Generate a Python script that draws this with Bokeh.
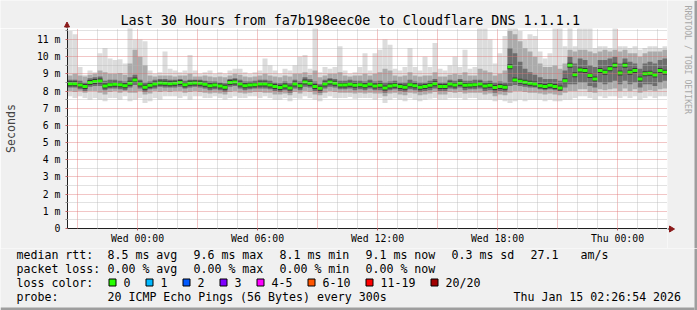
from bokeh.plotting import figure
from bokeh.models import Range1d, FixedTicker
from bokeh.layouts import column, row
from bokeh.embed import file_html
from bokeh.resources import INLINE
from bokeh.core.properties import value
import math

# ---------------- data ----------------
TITLE = "Last 30 Hours from fa7b198eec0e to Cloudflare DNS 1.1.1.1"
X_TICK_HOURS = [0, 6, 12, 18, 24]
X_TICK_LABELS = ["Wed 00:00", "Wed 06:00", "Wed 12:00", "Wed 18:00", "Thu 00:00"]
Y_TICKS = [0, 1, 2, 3, 4, 5, 6, 7, 8, 9, 10, 11]
Y_TICK_LABELS = ["0", "1 m", "2 m", "3 m", "4 m", "5 m", "6 m", "7 m", "8 m", "9 m", "10 m", "11 m"]

START_HOUR = -3.5   # Tue 20:30, hours relative to Wed 00:00
STEP_HOUR = 0.25    # one column = 15 minutes

median_ms = [
    8.43, 8.43, 8.35, 8.27, 8.49, 8.55, 8.58, 8.30, 8.37, 8.39, 8.37, 8.31, 8.45, 8.64, 8.41, 8.22, 8.33, 8.41, 8.47, 8.45,
    8.43, 8.45, 8.49, 8.37, 8.45, 8.47, 8.45, 8.39, 8.31, 8.35, 8.29, 8.22, 8.49, 8.53, 8.41, 8.31, 8.35, 8.37, 8.41, 8.41,
    8.35, 8.26, 8.20, 8.29, 8.18, 8.41, 8.31, 8.53, 8.45, 8.27, 8.16, 8.41, 8.53, 8.45, 8.35, 8.35, 8.39, 8.33, 8.37, 8.31,
    8.39, 8.29, 8.33, 8.18, 8.29, 8.33, 8.26, 8.22, 8.37, 8.31, 8.22, 8.26, 8.33, 8.43, 8.26, 8.26, 8.41, 8.35, 8.45, 8.33,
    8.35, 8.37, 8.41, 8.29, 8.33, 8.20, 8.26, 8.22, 9.42, 8.64, 8.57, 8.51, 8.45, 8.41, 8.31, 8.26, 8.33, 8.26, 8.18, 8.60,
    9.50, 8.95, 9.22, 9.20, 8.90, 8.70, 9.20, 9.10, 9.30, 9.50, 9.05, 9.50, 9.10, 9.20, 8.70, 9.00, 9.03, 8.93, 9.20, 9.10,
]
smoke_max = [
    11.5, 11.3, 9.4, 8.95, 9.2, 9.1, 10.2, 10.5, 9.9, 9.8, 9.85, 9.6, 11.7, 11.0, 11.0, 10.9, 9.2, 9.0, 9.1, 10.3,
    9.3, 9.2, 9.1, 9.2, 10.1, 9.2, 9.0, 9.1, 9.2, 9.0, 9.1, 9.0, 9.2, 9.3, 9.3, 9.1, 9.0, 9.1, 9.2, 9.9,
    9.5, 9.2, 9.0, 9.3, 9.2, 9.5, 10.0, 10.1, 9.3, 11.7, 9.1, 9.4, 9.3, 9.4, 10.6, 9.2, 9.0, 9.1, 9.4, 10.2,
    9.2, 10.2, 10.4, 11.0, 10.7, 9.3, 9.2, 9.4, 10.5, 9.4, 9.2, 10.0, 9.4, 10.8, 9.3, 9.2, 9.5, 10.0, 9.4, 10.4,
    9.3, 9.4, 11.7, 11.7, 11.0, 9.6, 10.2, 11.2, 11.7, 11.7, 11.5, 11.0, 11.3, 11.2, 10.3, 9.9, 10.2, 11.7, 11.7, 10.6,
    11.7, 10.6, 11.7, 11.7, 11.7, 10.5, 10.6, 10.6, 10.5, 11.7, 10.6, 10.6, 10.5, 10.6, 10.4, 10.5, 10.6, 10.6, 10.5, 10.6,
]
smoke_hi = [
    8.9, 9.0, 8.9, 8.85, 8.95, 9.0, 9.2, 9.1, 9.0, 9.0, 9.05, 8.95, 9.6, 10.4, 10.0, 9.5, 8.9, 8.85, 8.9, 8.9,
    8.9, 8.85, 8.9, 8.9, 9.0, 8.85, 8.85, 8.9, 8.85, 8.8, 8.85, 8.8, 8.9, 9.0, 8.95, 8.85, 8.8, 8.85, 8.9, 9.0,
    8.9, 8.85, 8.8, 8.9, 8.85, 9.0, 9.0, 9.1, 8.95, 9.2, 8.8, 8.9, 9.0, 9.0, 9.1, 8.9, 8.85, 8.9, 8.9, 9.0,
    8.9, 9.0, 9.1, 9.3, 9.2, 8.9, 8.85, 8.9, 9.1, 8.9, 8.85, 8.9, 8.9, 9.1, 8.85, 8.85, 8.95, 9.0, 8.95, 9.1,
    8.9, 8.9, 9.3, 9.2, 9.1, 8.9, 9.0, 9.2, 11.5, 11.3, 10.9, 10.5, 10.3, 10.0, 9.6, 9.4, 9.4, 9.5, 9.3, 9.6,
    10.4, 10.3, 10.4, 10.4, 10.3, 10.2, 10.3, 10.4, 10.3, 10.4, 10.3, 10.4, 10.2, 10.2, 10.0, 10.2, 10.3, 10.3, 10.3, 10.4,
]
core_hi = [
    8.65, 8.65, 8.6, 8.5, 8.75, 8.8, 8.85, 8.6, 8.65, 8.65, 8.6, 8.55, 8.8, 8.95, 8.65, 8.5, 8.55, 8.65, 8.7, 8.7,
    8.65, 8.65, 8.7, 8.6, 8.65, 8.65, 8.65, 8.6, 8.55, 8.55, 8.5, 8.45, 8.7, 8.75, 8.65, 8.55, 8.55, 8.6, 8.65, 8.65,
    8.6, 8.5, 8.45, 8.55, 8.45, 8.65, 8.55, 8.8, 8.7, 8.55, 8.4, 8.65, 8.75, 8.7, 8.6, 8.6, 8.65, 8.6, 8.6, 8.55,
    8.65, 8.55, 8.6, 8.5, 8.55, 8.6, 8.5, 8.5, 8.65, 8.55, 8.5, 8.5, 8.6, 8.7, 8.5, 8.5, 8.65, 8.6, 8.7, 8.6,
    8.6, 8.65, 8.65, 8.55, 8.6, 8.5, 8.55, 8.5, 10.5, 10.2, 9.7, 9.3, 9.1, 8.95, 8.8, 8.7, 8.7, 8.7, 8.6, 9.2,
    10.0, 9.6, 9.9, 9.8, 9.5, 9.4, 9.8, 9.8, 9.9, 10.0, 9.6, 9.9, 9.7, 9.6, 9.3, 9.6, 9.7, 9.6, 9.8, 9.9,
]
core_lo = [
    8.2, 8.2, 8.1, 8.0, 8.25, 8.3, 8.3, 8.05, 8.15, 8.15, 8.1, 8.05, 8.2, 8.35, 8.15, 7.95, 8.1, 8.15, 8.25, 8.2,
    8.2, 8.2, 8.25, 8.15, 8.2, 8.25, 8.2, 8.15, 8.05, 8.1, 8.05, 7.95, 8.25, 8.3, 8.15, 8.05, 8.1, 8.15, 8.15, 8.15,
    8.1, 8.0, 7.95, 8.05, 7.9, 8.15, 8.05, 8.25, 8.2, 8.0, 7.9, 8.15, 8.25, 8.2, 8.1, 8.1, 8.15, 8.05, 8.1, 8.05,
    8.15, 8.05, 8.05, 7.9, 8.05, 8.1, 8.0, 7.95, 8.1, 8.05, 7.95, 8.0, 8.05, 8.15, 8.0, 8.0, 8.15, 8.1, 8.2, 8.05,
    8.1, 8.1, 8.15, 8.0, 8.05, 7.9, 8.0, 7.95, 8.3, 8.35, 8.3, 8.25, 8.2, 8.2, 8.1, 8.05, 8.1, 8.05, 8.0, 8.2,
    8.4, 8.4, 8.5, 8.5, 8.3, 8.2, 8.5, 8.4, 8.5, 8.6, 8.4, 8.6, 8.4, 8.5, 8.2, 8.4, 8.4, 8.3, 8.5, 8.6,
]
smoke_lo = [
    8.0, 7.95, 8.0, 7.9, 8.0, 8.0, 7.9, 7.8, 7.95, 8.0, 7.9, 8.0, 7.9, 7.9, 8.0, 7.8, 7.85, 8.0, 7.95, 8.0,
    7.95, 8.0, 8.0, 7.9, 7.95, 8.0, 7.95, 7.9, 7.85, 7.9, 7.85, 7.8, 7.95, 8.0, 7.9, 7.85, 7.9, 7.95, 7.95, 7.9,
    7.9, 7.8, 7.8, 7.85, 7.75, 7.95, 7.85, 8.0, 7.95, 7.8, 7.75, 7.9, 8.0, 7.95, 7.9, 7.9, 7.9, 7.85, 7.9, 7.85,
    7.9, 7.85, 7.85, 7.7, 7.85, 7.9, 7.8, 7.75, 7.9, 7.85, 7.75, 7.8, 7.85, 7.95, 7.8, 7.8, 7.95, 7.9, 7.95, 7.85,
    7.9, 7.9, 7.9, 7.8, 7.85, 7.7, 7.8, 7.75, 7.9, 8.0, 8.0, 7.95, 7.9, 7.9, 7.85, 7.8, 7.85, 7.8, 7.75, 7.9,
    8.0, 8.0, 8.1, 8.1, 7.95, 7.9, 8.1, 8.05, 8.1, 8.15, 8.0, 8.15, 8.0, 8.1, 7.9, 8.0, 8.05, 8.0, 8.1, 8.15,
]
smoke_min = [
    7.7, 7.6, 7.7, 7.6, 7.5, 7.6, 7.5, 7.4, 7.6, 7.6, 7.5, 7.7, 7.4, 7.5, 7.6, 7.3, 7.4, 7.6, 7.5, 7.7,
    7.7, 7.7, 7.6, 7.7, 7.5, 7.7, 7.7, 7.6, 7.6, 7.7, 7.6, 7.5, 7.6, 7.7, 7.6, 7.6, 7.7, 7.7, 7.6, 7.7,
    7.6, 7.5, 7.5, 7.6, 7.4, 7.6, 7.55, 7.7, 7.6, 7.5, 7.4, 7.6, 7.7, 7.6, 7.6, 7.6, 7.65, 7.55, 7.6, 7.6,
    7.6, 7.5, 7.6, 7.3, 7.5, 7.6, 7.5, 7.4, 7.6, 7.5, 7.4, 7.5, 7.55, 7.6, 7.5, 7.5, 7.6, 7.6, 7.6, 7.5,
    7.6, 7.6, 7.5, 7.5, 7.5, 7.4, 7.5, 7.4, 7.3, 7.4, 7.5, 7.4, 7.5, 7.5, 7.5, 7.4, 7.5, 7.4, 7.4, 7.5,
    7.5, 7.6, 7.7, 7.7, 7.6, 7.5, 7.7, 7.6, 7.7, 7.7, 7.6, 7.7, 7.6, 7.7, 7.5, 7.6, 7.7, 7.6, 7.7, 7.7,
]

STAT_ROW_RTT = ["median rtt:", "8.5 ms avg", "9.6 ms max", "8.1 ms min", "9.1 ms now", "0.3 ms sd", "27.1", "am/s"]
STAT_ROW_LOSS = ["packet loss:", "0.00 % avg", "0.00 % max", "0.00 % min", "0.00 % now"]
LOSS_LABELS = ["0", "1", "2", "3", "4-5", "6-10", "11-19", "20/20"]
LOSS_COLORS = ["#26ff00", "#00b8ff", "#0059ff", "#7e00ff", "#ff00ff", "#ff5500", "#ff0000", "#a10000"]
PROBE_ROW = ["probe:", "20 ICMP Echo Pings (56 Bytes) every 300s", "Thu Jan 15 02:26:54 2026"]
WATERMARK = "RRDTOOL / TOBI OETIKER"

# ---------------- layout / style ----------------
MONO = "DejaVu Sans Mono"
W = 697
H_TOP, H_MAIN, H_LEG = 28, 220, 62      # title strip, chart, legend
Y_MAIN_END = H_TOP + H_MAIN              # 248
FRAME_L, FRAME_R = 67, 667
EDGE = 3
BG = "#f0f0f0"
SHADE = "#9e9e9e"
ARROW = "#8b1a1a"
AXIS = "#202020"


def pixel_panel(width, height, x0, y0):
    f = figure(width=width, height=height, x_range=Range1d(x0, x0 + width),
               y_range=Range1d(y0 + height, y0), output_backend="svg", toolbar_location=None,
               min_border=0, x_axis_type=None, y_axis_type=None)
    f.frame_align = False
    f.background_fill_color = BG
    f.border_fill_color = BG
    f.outline_line_color = None
    f.xgrid.visible = False
    f.ygrid.visible = False
    return f


n = len(median_ms)
left = [START_HOUR + STEP_HOUR * i for i in range(n)]
right = [l + STEP_HOUR for l in left]
center = [l + STEP_HOUR / 2 for l in left]

# ---------------- title strip (above the chart) ----------------
top = pixel_panel(FRAME_R, H_TOP, 0, 0)
top.text(x=[120], y=[19.5], text=[TITLE], text_font=value(MONO), text_font_size="13.4px",
         text_baseline="middle", text_align="left", text_color="black")
top.segment(x0=[FRAME_L - 0.5], y0=[26], x1=[FRAME_L - 0.5], y1=[H_TOP], line_color=AXIS, line_width=1)
top.patch(x=[FRAME_L - 3, FRAME_L + 2, FRAME_L - 0.5], y=[26.5, 26.5, 21.5], fill_color=ARROW, line_color=ARROW)

# ---------------- main chart ----------------
p = figure(width=FRAME_R, height=H_MAIN, x_range=Range1d(-3.5, 26.5), y_range=Range1d(0, 11.64),
           output_backend="svg", toolbar_location=None,
           min_border_left=FRAME_L, min_border_right=0, min_border_top=0, min_border_bottom=20)
p.frame_align = False
p.background_fill_color = "white"
p.border_fill_color = BG
p.outline_line_color = None

# smoke
p.quad(left=left, right=right, bottom=smoke_min, top=smoke_max, fill_color="#dcdcdc", line_color=None)
p.quad(left=left, right=right, bottom=smoke_lo, top=smoke_hi, fill_color="#ababab", line_color=None)
p.quad(left=left, right=right, bottom=core_lo, top=core_hi, fill_color="#6e6e6e", line_color=None)
p.rect(x=center, y=median_ms, width=STEP_HOUR, height=5, height_units="screen",
       fill_color="#383838", line_color=None)
p.rect(x=center, y=median_ms, width=STEP_HOUR, height=3, height_units="screen",
       fill_color="#26ff00", line_color=None)

# grid
p.xgrid.ticker = FixedTicker(ticks=list(range(-3, 27, 3)),
                             minor_ticks=[h for h in range(-3, 27) if h % 3 != 0])
p.ygrid.ticker = FixedTicker(ticks=Y_TICKS, minor_ticks=[k + 0.5 for k in range(0, 12)])
for g in (p.xgrid, p.ygrid):
    g.grid_line_color = "#e07070"
    g.grid_line_alpha = 0.8
    g.grid_line_dash = "1 1"
    g.minor_grid_line_color = "#b8b8b8"
    g.minor_grid_line_alpha = 0.8
    g.minor_grid_line_dash = "1 1"
    g.level = "overlay"

# axes
p.xaxis.ticker = FixedTicker(ticks=X_TICK_HOURS)
p.xaxis.major_label_overrides = {h: lab for h, lab in zip(X_TICK_HOURS, X_TICK_LABELS)}
p.yaxis.ticker = FixedTicker(ticks=Y_TICKS, minor_ticks=[k + 0.5 for k in range(0, 12)])
p.yaxis.major_label_overrides = {v: lab for v, lab in zip(Y_TICKS, Y_TICK_LABELS)}
for ax in (p.xaxis, p.yaxis):
    ax.axis_line_color = AXIS
    ax.major_label_text_font = MONO
    ax.major_label_text_font_size = "9.8px"
    ax.major_label_text_color = "black"
    ax.major_tick_in = 0
    ax.major_tick_out = 2
    ax.major_tick_line_color = "#c06060"
    ax.minor_tick_in = 0
    ax.minor_tick_out = 2
    ax.minor_tick_line_color = "#909090"
p.xaxis.major_label_standoff = 2
p.yaxis.major_label_standoff = 5
p.yaxis.axis_label = "Seconds"
p.yaxis.axis_label_text_font = MONO
p.yaxis.axis_label_text_font_size = "11.6px"
p.yaxis.axis_label_text_font_style = "normal"
p.yaxis.axis_label_standoff = 16

# ---------------- right margin (full height of title strip + chart) ----------------
side = pixel_panel(W - FRAME_R, Y_MAIN_END, FRAME_R, 0)
side.text(x=[687.5], y=[5], text=[WATERMARK], angle=-math.pi / 2, text_font=value(MONO),
          text_font_size="8.2px", text_color="#a8a8a8", text_baseline="middle", text_align="left")
side.quad(left=[W - EDGE], right=[W], top=[0], bottom=[Y_MAIN_END], fill_color=SHADE, line_color=None)
side.segment(x0=[FRAME_R], y0=[228.5], x1=[670], y1=[228.5], line_color=AXIS, line_width=1)
side.patch(x=[669, 669, 674], y=[225.5, 231.5, 228.5], fill_color=ARROW, line_color=ARROW)

# ---------------- legend panel ----------------
q = pixel_panel(W, H_LEG, 0, Y_MAIN_END)
ROW_Y = [254, 268, 282, 296]
RTT_X = [16, 107, 193, 279, 365, 451, 530, 580]
LOSS_X = [16, 107, 193, 279, 365]
PROBE_X = [16, 107, 513]

tx, ty, tt = [], [], []
for s, x in zip(STAT_ROW_RTT, RTT_X):
    tx.append(x); ty.append(ROW_Y[0]); tt.append(s)
for s, x in zip(STAT_ROW_LOSS, LOSS_X):
    tx.append(x); ty.append(ROW_Y[1]); tt.append(s)
tx.append(16); ty.append(ROW_Y[2]); tt.append("loss color:")
bx = []
xpos = 108
for lab in LOSS_LABELS:
    bx.append(xpos)
    tx.append(xpos + 15); ty.append(ROW_Y[2]); tt.append(lab)
    xpos += 30 + 7 * len(lab)
for s, x in zip(PROBE_ROW, PROBE_X):
    tx.append(x); ty.append(ROW_Y[3]); tt.append(s)

q.text(x=tx, y=ty, text=tt, text_font=value(MONO), text_font_size="11.6px",
       text_baseline="middle", text_align="left", text_color="black")
q.quad(left=[b + 0.5 for b in bx], right=[b + 7.5 for b in bx],
       top=[ROW_Y[2] - 3.5] * len(bx), bottom=[ROW_Y[2] + 3.5] * len(bx),
       fill_color=LOSS_COLORS, line_color="black", line_width=1)
q.quad(left=[W - EDGE, 0], right=[W, W - EDGE], top=[Y_MAIN_END, Y_MAIN_END + H_LEG - EDGE],
       bottom=[Y_MAIN_END + H_LEG, Y_MAIN_END + H_LEG],
       fill_color=[SHADE, SHADE], line_color=None)

layout = column(row(column(top, p, spacing=0), side, spacing=0), q, spacing=0)
open("out.html", "w").write(file_html(layout, INLINE))
